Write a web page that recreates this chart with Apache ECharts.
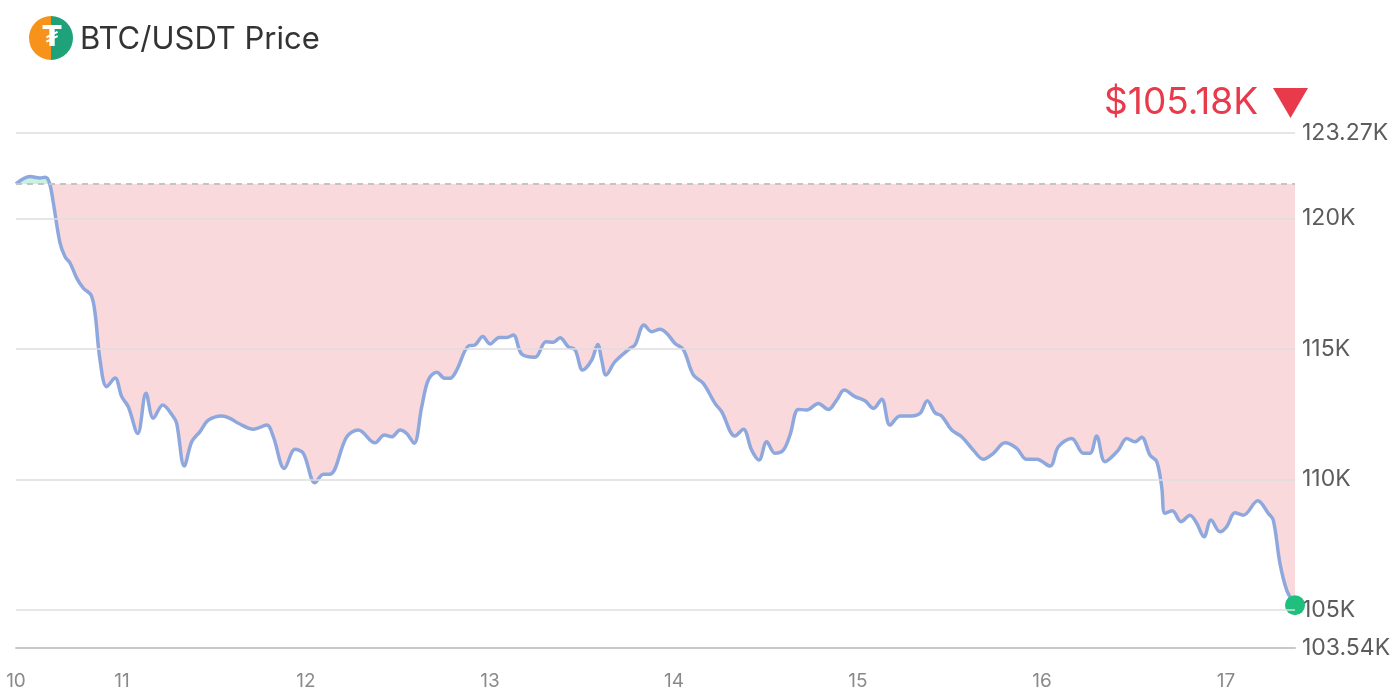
<!DOCTYPE html>
<html>
<head>
<meta charset="utf-8">
<script src="https://cdn.jsdelivr.net/npm/echarts@6/dist/echarts.min.js"></script>
<style>
html,body{margin:0;padding:0;background:#fff;}
#chart{width:1400px;height:700px;}
</style>
</head>
<body>
<div id="chart"></div>
<script>
// Hours since day 10, 00:00
const hours = [10.17,12.0,13.3,13.96,14.52,15.04,15.91,16.57,17.22,18.09,18.95,19.96,20.48,21.13,22.0,23.09,23.96,24.82,26.05,27.13,28.08,29.31,30.69,31.13,32.12,33.09,34.17,35.26,37.0,38.09,39.17,41.13,42.87,43.74,45.17,46.57,47.65,49.17,50.26,51.13,53.31,54.82,57.0,58.21,59.18,60.26,61.13,62.09,63.09,63.95,65.05,66.13,66.78,67.66,69.17,70.04,71.05,72.0,73.21,74.18,75.04,76.13,77.87,79.3,80.26,81.13,82.21,83.09,84.09,85.26,86.05,86.57,87.13,88.3,90.26,90.91,92.09,93.09,94.17,95.04,96.13,97.21,98.52,99.82,101.35,102.22,103.96,105.04,106.13,107.09,108.09,109.17,110.26,111.13,112.22,113.31,114.82,116.13,117.22,118.21,119.61,120.91,122.0,123.09,124.17,125.48,127.0,128.09,129.04,130.04,130.91,132.22,133.52,135.04,136.34,137.65,139.17,140.7,142.0,143.31,145.04,146.13,147.87,149.39,150.26,151.13,152.22,153.95,155.05,156.13,157.0,158.09,158.96,159.61,160.04,161.0,162.13,163.3,164.18,165.13,166.04,167.22,168.09,169.17,170.26,172.14,173.52,174.17,175.04,175.92,177.0];
// BTC/USDT price in thousands of USD
const prices = [121.32,121.6,121.55,121.57,121.37,120.59,119.06,118.53,118.29,117.71,117.33,117.06,116.37,114.57,113.55,113.88,113.17,112.78,111.76,113.3,112.34,112.85,112.4,112.15,110.51,111.44,111.83,112.27,112.43,112.34,112.15,111.92,112.08,111.63,110.42,111.15,111.0,109.87,110.2,110.2,111.63,111.89,111.4,111.7,111.63,111.89,111.76,111.38,112.78,113.81,114.1,113.87,113.87,114.19,115.11,115.15,115.47,115.19,115.44,115.44,115.53,114.8,114.68,115.27,115.25,115.43,115.08,114.96,114.19,114.57,115.17,114.57,114.0,114.51,115.02,115.15,115.91,115.66,115.75,115.6,115.21,114.98,114.0,113.68,112.91,112.59,111.66,111.92,111.12,110.74,111.44,111.0,111.12,111.7,112.68,112.66,112.91,112.68,113.04,113.42,113.17,113.01,112.72,113.07,112.08,112.43,112.43,112.53,113.01,112.55,112.43,111.89,111.63,111.12,110.77,111.0,111.4,111.19,110.77,110.77,110.51,111.25,111.57,111.0,111.0,111.66,110.68,111.12,111.57,111.44,111.61,110.93,110.68,109.72,108.7,108.8,108.38,108.63,108.32,107.8,108.44,107.99,108.19,108.72,108.63,109.18,108.7,108.44,106.78,105.76,105.18];
const yTickValues = [103.54, 105, 110, 115, 120, 123.27];
const gridValues = [105, 110, 115, 120, 123.27];
const dayTickHours = [24, 48, 72, 96, 120, 144, 168];
const titleText = 'BTC/USDT Price';
const priceText = '$105.18K';

const openPrice = prices[0];
const lineData = hours.map((h, i) => [h, prices[i]]);
const redData = hours.map((h, i) => [h, Math.min(prices[i], openPrice)]);
const greenData = hours.map((h, i) => [h, Math.max(prices[i], openPrice)]);
const xMin = hours[0], xMax = hours[hours.length - 1];
const yMin = yTickValues[0], yMax = yTickValues[yTickValues.length - 1];
const FONT = 'Inter, Roboto, "Noto Sans", sans-serif';
const RED = '#e83a4b';
const SMOOTH = 0.35;

const chart = echarts.init(document.getElementById('chart'));
chart.setOption({
  animation: false,
  backgroundColor: '#ffffff',
  grid: { left: 16, right: 105, top: 133, bottom: 52, containLabel: false },
  xAxis: {
    type: 'value', min: xMin, max: xMax,
    axisLine: { show: true, lineStyle: { color: '#c9c9c9', width: 2 } },
    axisTick: { show: false },
    splitLine: { show: false },
    axisLabel: {
      customValues: [xMin].concat(dayTickHours),
      formatter: v => String(10 + Math.floor(v / 24 + 1e-9)),
      color: '#8a8a8a', fontSize: 19, fontFamily: FONT, margin: 24
    }
  },
  yAxis: {
    type: 'value', position: 'right', min: yMin, max: yMax,
    axisLine: { show: false }, axisTick: { show: false }, splitLine: { show: false },
    axisLabel: {
      customValues: yTickValues,
      formatter: v => (Math.round(v * 100) / 100) + 'K',
      color: '#5c5c5c', fontSize: 23, fontFamily: FONT, margin: 7
    }
  },
  graphic: [
    { type: 'sector', shape: { cx: 51, cy: 38, r: 22, r0: 0, startAngle: Math.PI / 2, endAngle: Math.PI * 1.5 }, style: { fill: '#f7931a' } },
    { type: 'sector', shape: { cx: 51, cy: 38, r: 22, r0: 0, startAngle: -Math.PI / 2, endAngle: Math.PI / 2 }, style: { fill: '#1fa27a' } },
    { type: 'text', x: 52, y: 39, style: { text: '₮', fill: '#ffffff', font: 'bold 28px "DejaVu Sans", sans-serif', align: 'center', verticalAlign: 'middle' } },
    { type: 'text', x: 80, y: 40, style: { text: titleText, fill: '#333333', font: '31px ' + FONT, verticalAlign: 'middle' } },
    { type: 'text', x: 1258, y: 103, style: { text: priceText, fill: RED, font: '37px ' + FONT, align: 'right', verticalAlign: 'middle' } },
    { type: 'polygon', shape: { points: [[1273, 88], [1308, 88], [1290.5, 118]] }, style: { fill: RED } }
  ],
  series: [
    {
      type: 'line', name: 'grid', data: [], z: 1, silent: true,
      markLine: {
        silent: true, symbol: 'none', label: { show: false },
        lineStyle: { color: '#dedede', width: 1.5, type: 'solid' },
        data: gridValues.map(v => ({ yAxis: v }))
      }
    },
    {
      type: 'line', name: 'below', data: redData, smooth: SMOOTH, showSymbol: false, z: 2, silent: true,
      lineStyle: { opacity: 0, width: 0 },
      areaStyle: { origin: openPrice, color: 'rgba(234,80,95,0.22)', opacity: 1 },
      markLine: {
        silent: true, symbol: 'none', label: { show: false },
        lineStyle: { color: '#c4c4c4', width: 2, type: [6, 5], opacity: 1 },
        data: [{ yAxis: openPrice }]
      }
    },
    {
      type: 'line', name: 'above', data: greenData, smooth: SMOOTH, showSymbol: false, z: 2, silent: true,
      lineStyle: { opacity: 0, width: 0 },
      areaStyle: { origin: openPrice, color: 'rgba(40,200,140,0.25)', opacity: 1 }
    },
    {
      type: 'line', name: 'BTC/USDT', data: lineData, smooth: SMOOTH, showSymbol: false, z: 3,
      lineStyle: { color: '#8ea8de', width: 3.5 }
    },
    {
      type: 'scatter', name: 'last', z: 4, data: [lineData[lineData.length - 1]],
      symbolSize: 20, itemStyle: { color: '#1fc07e', opacity: 1 }
    }
  ]
});
</script>
</body>
</html>
